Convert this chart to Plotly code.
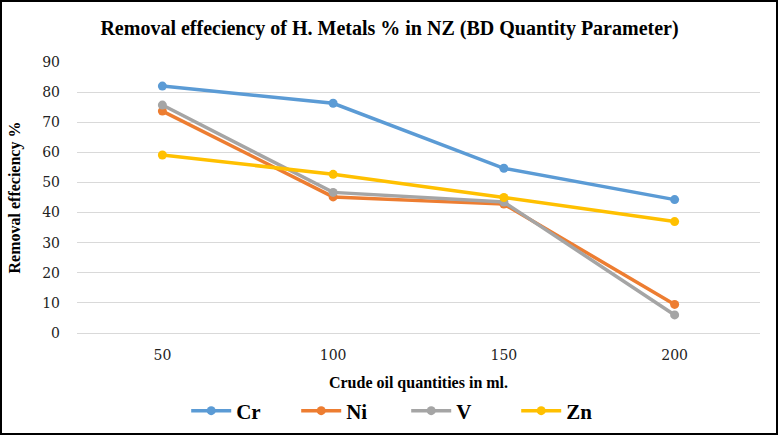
import plotly.graph_objects as go

categories = ["50", "100", "150", "200"]
cr = [82.0, 76.3, 54.7, 44.3]
ni = [73.7, 45.2, 42.8, 9.5]
v = [75.7, 46.7, 43.5, 6.0]
zn = [59.1, 52.7, 45.0, 37.0]

series = [("Cr", cr, "#5B9BD5"), ("Ni", ni, "#ED7D31"), ("V", v, "#A5A5A5"), ("Zn", zn, "#FFC000")]

W, H = 779, 436
ml, mr, mt, mb = 77, 19, 62, 103
SERIF = "Times New Roman"
TICKF = "DejaVu Serif"

fig = go.Figure()
for name, vals, col in series:
    fig.add_trace(go.Scatter(
        x=categories, y=vals, name="<b>" + name + "</b>", mode="lines+markers",
        line=dict(color=col, width=3.5),
        marker=dict(color=col, size=9),
    ))

pw = W - ml - mr
ph = H - mt - mb

fig.update_layout(
    width=W, height=H,
    margin=dict(l=ml, r=mr, t=mt, b=mb, autoexpand=False),
    paper_bgcolor="white", plot_bgcolor="white",
    font=dict(family=SERIF, color="#000000"),
    title=dict(text="<b>Removal effeciency of H. Metals % in NZ (BD Quantity Parameter)</b>",
               x=0.5, xanchor="center", y=1 - 28 / H, yanchor="middle",
               font=dict(size=20, family=SERIF, color="#000000")),
    xaxis=dict(type="category", range=[-0.5, 3.5], showgrid=False, showline=False,
               ticks="", tickfont=dict(size=14, color="#222", family=TICKF), ticklabelstandoff=12,
               title=dict(text="<b>Crude oil quantities in ml.</b>", font=dict(size=16, family=SERIF), standoff=14)),
    yaxis=dict(range=[0, 90], dtick=10, showgrid=True, gridcolor="#D9D9D9", gridwidth=1,
               zeroline=True, zerolinecolor="#D9D9D9", zerolinewidth=1, showline=False,
               ticks="", tickfont=dict(size=14, color="#222", family=TICKF), ticklabelstandoff=16,
               title=dict(text="<b>Removal effeciency %</b>", font=dict(size=16, family=SERIF), standoff=17)),
    legend=dict(orientation="h", x=0.482, xanchor="center", y=-(411 - (H - mb)) / ph, yanchor="middle",
                font=dict(size=21, family=SERIF), itemwidth=40, bgcolor="rgba(0,0,0,0)",
                tracegroupgap=0, entrywidth=55),
    showlegend=True,
)

# outer border
fig.add_shape(type="rect", xref="paper", yref="paper",
              x0=-(ml - 1) / pw, x1=1 + (mr - 2) / pw,
              y0=-(mb - 2) / ph, y1=1 + (mt - 1) / ph,
              line=dict(color="#000000", width=2), layer="above")

fig.write_html("out.html")
